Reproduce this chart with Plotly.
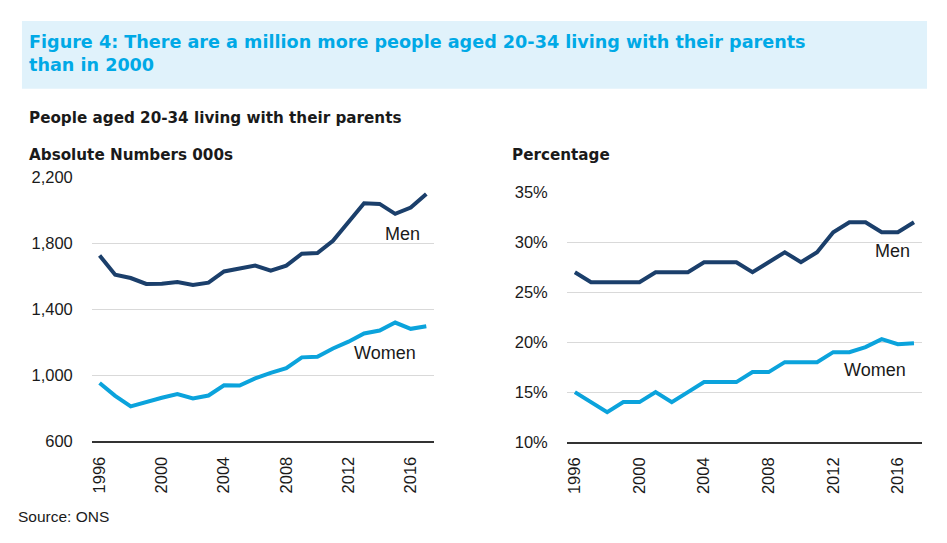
import plotly.graph_objects as go

years = list(range(1996, 2018))
men_abs = [1727, 1610, 1590, 1554, 1555, 1566, 1548, 1562, 1630, 1650, 1665,
           1634, 1665, 1737, 1741, 1816, 1932, 2043, 2039, 1979, 2017, 2099]
women_abs = [954, 876, 812, 840, 864, 886, 860, 878, 940, 938, 982,
             1015, 1043, 1109, 1113, 1163, 1204, 1254, 1272, 1320, 1282, 1298]
men_pct = [27, 26, 26, 26, 26, 27, 27, 27, 28, 28, 28,
           27, 28, 29, 28, 29, 31, 32, 32, 31, 31, 32]
women_pct = [15, 14, 13, 14, 14, 15, 14, 15, 16, 16, 16,
             17, 17, 18, 18, 18, 19, 19, 19.5, 20.3, 19.8, 19.9]
x_ticks = [1996, 2000, 2004, 2008, 2012, 2016]
abs_ticks = [600, 1000, 1400, 1800, 2200]
pct_ticks = [10, 15, 20, 25, 30, 35]

W, H = 947, 543
# effective drawing height / top offset observed in the rendered page
EFF_H, TOP = 527, 8
MEN = "#1B3F6B"
WOMEN = "#0BA3DC"
TXT = "#1a1a1a"
FONT = "Liberation Sans, Arial, sans-serif"
HEAD = "DejaVu Sans, Liberation Sans, sans-serif"

def px(x):
    return x / W

def py(y):
    return 1 - (y - TOP) / EFF_H

fig = go.Figure()
fig.add_trace(go.Scatter(x=years, y=men_abs, mode="lines", line=dict(color=MEN, width=4),
                         xaxis="x", yaxis="y", showlegend=False))
fig.add_trace(go.Scatter(x=years, y=women_abs, mode="lines", line=dict(color=WOMEN, width=4),
                         xaxis="x", yaxis="y", showlegend=False))
fig.add_trace(go.Scatter(x=years, y=men_pct, mode="lines", line=dict(color=MEN, width=4),
                         xaxis="x2", yaxis="y2", showlegend=False))
fig.add_trace(go.Scatter(x=years, y=women_pct, mode="lines", line=dict(color=WOMEN, width=4),
                         xaxis="x2", yaxis="y2", showlegend=False))

xcommon = dict(range=[1995.5, 2017.5], tickmode="array", tickvals=x_ticks,
               ticktext=[str(v) for v in x_ticks], tickangle=-90,
               showgrid=False, zeroline=False, showline=True, linecolor="#333333",
               linewidth=1.5, ticks="", tickfont=dict(family=FONT, size=16.5, color=TXT),
               ticklabelstandoff=7, fixedrange=True)
ycommon = dict(showgrid=True, gridcolor="#d9d9d9", gridwidth=1, zeroline=False,
               showline=False, ticks="", tickfont=dict(family=FONT, size=16.5, color=TXT),
               ticklabelstandoff=18, fixedrange=True)

fig.update_layout(
    width=W, height=H,
    margin=dict(l=0, r=0, t=0, b=0),
    paper_bgcolor="white", plot_bgcolor="white",
    xaxis=dict(domain=[px(90), px(433)], anchor="y", **xcommon),
    yaxis=dict(domain=[py(442), py(177)], anchor="x", range=[600, 2200],
               tickvals=abs_ticks, ticktext=[f"{v:,}" for v in abs_ticks], **ycommon),
    xaxis2=dict(domain=[px(566), px(922)], anchor="y2", **xcommon),
    yaxis2=dict(domain=[py(442.7), py(192)], anchor="x2", range=[10, 35],
                tickvals=pct_ticks, ticktext=[f"{v}%" for v in pct_ticks], **ycommon),
)

fig.add_shape(type="rect", xref="paper", yref="paper",
              x0=px(20), x1=px(927), y0=py(88), y1=py(20),
              fillcolor="#E0F2FB", line=dict(width=0), layer="below")

def note(text, x, y, size, color=TXT, bold=False, family=FONT):
    if bold:
        text = f"<b>{text}</b>"
    fig.add_annotation(text=text, xref="paper", yref="paper", x=px(x), y=py(y),
                       xanchor="left", yanchor="middle", showarrow=False, align="left",
                       font=dict(family=family, size=size, color=color))

note("Figure 4: There are a million more people aged 20-34 living with their parents<br>than in 2000",
     25, 53, 17.6, color="#00A9E6", bold=True, family=HEAD)
note("People aged 20-34 living with their parents", 25, 117, 15.2, bold=True, family=HEAD)
note("Absolute Numbers 000s", 25, 155, 15.2, bold=True, family=HEAD)
note("Percentage", 509, 155, 15.2, bold=True, family=HEAD)
note("Source: ONS", 14, 517, 15.5)

def series_label(text, x, y, xr, yr):
    fig.add_annotation(text=text, x=x, y=y, xref=xr, yref=yr, showarrow=False,
                       xanchor="center", yanchor="middle",
                       font=dict(family=FONT, size=18, color=TXT))

series_label("Men", 2015.45, 1856, "x", "y")
series_label("Women", 2014.36, 1137, "x", "y")
series_label("Men", 2015.7, 29.14, "x2", "y2")
series_label("Women", 2014.6, 17.24, "x2", "y2")

fig.write_html("out.html", config={"displayModeBar": False},
               post_script="document.body.style.margin='0';")
